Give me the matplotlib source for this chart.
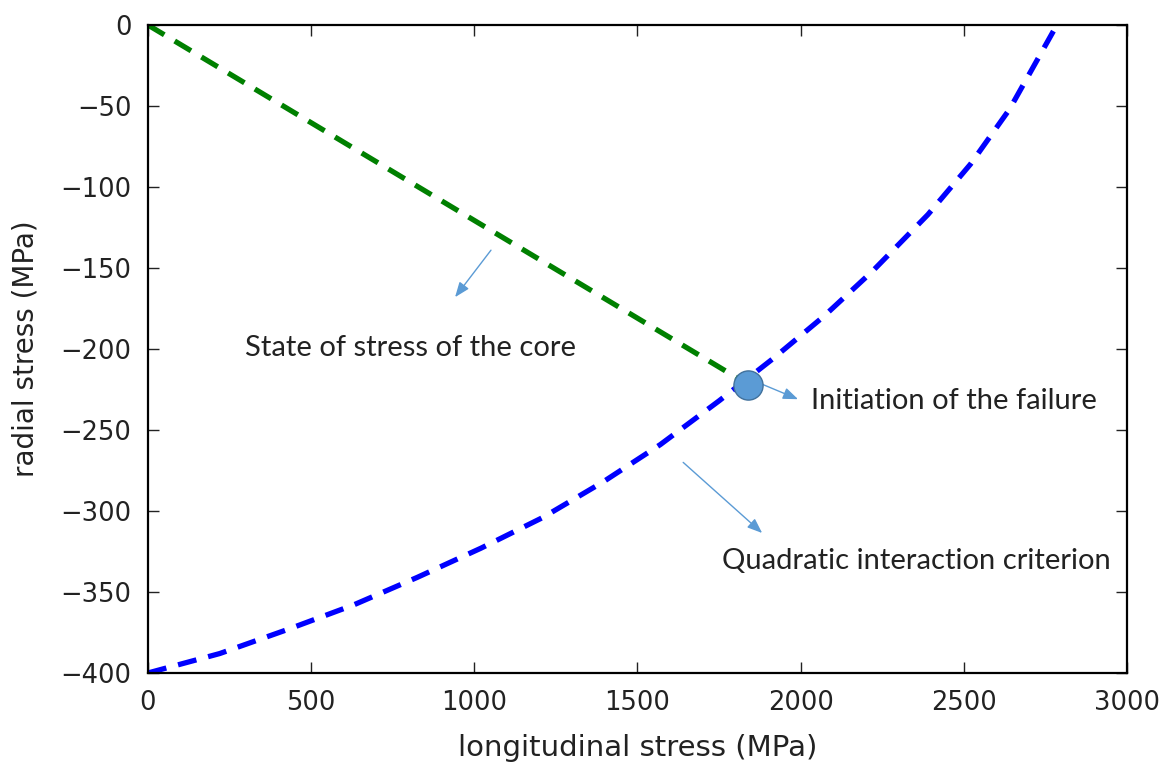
import matplotlib
matplotlib.use("Agg")
import matplotlib.pyplot as plt

# Quadratic interaction criterion (failure envelope)
crit_x = [0, 220, 430, 630, 825, 1020, 1210, 1395, 1570, 1750, 1915, 2070, 2220, 2390, 2520, 2640, 2785]
crit_y = [-400, -388, -373, -358, -341, -323, -304, -282, -259, -232, -206, -180, -152, -117, -86, -52, 0]

# State of stress of the core (loading path)
core_x = [0, 1840]
core_y = [0, -222]

# Initiation of failure point
fail_x = [1840]
fail_y = [-222]

x_ticks = [0, 500, 1000, 1500, 2000, 2500, 3000]
y_ticks = [0, -50, -100, -150, -200, -250, -300, -350, -400]

annot_color = "#5B9BD5"
txt_color = "#222222"

fig = plt.figure(figsize=(11.68, 7.65), dpi=100)
ax = fig.add_axes([0.1267, 0.1203, 0.8382, 0.847])

ax.plot(crit_x, crit_y, color="#0000FF", lw=3.8, dashes=(3.6, 2.3), dash_capstyle="butt")
ax.plot(core_x, core_y, color="#008000", lw=3.8, dashes=(3.6, 2.3), dash_capstyle="butt")
ax.plot(fail_x, fail_y, "o", ms=21, mfc=annot_color, mec="#41719C", mew=1.0, zorder=5)

ax.set_xlim(0, 3000)
ax.set_ylim(-400, 0)
ax.set_xticks(x_ticks)
ax.set_yticks(y_ticks)
ax.set_xticklabels([str(v) for v in x_ticks], family="DejaVu Sans")
ax.set_yticklabels([("\u2212" + str(-v)) if v < 0 else str(v) for v in y_ticks],
                   family="DejaVu Sans")

for s in ax.spines.values():
    s.set_linewidth(1.6)
ax.tick_params(direction="in", top=True, right=True, length=8, width=1.0,
               labelsize=18.5, colors=txt_color, labelcolor=txt_color)
ax.tick_params(axis="x", pad=12)
ax.tick_params(axis="y", pad=12)
ax.set_xlabel("longitudinal stress (MPa)", fontsize=21, color=txt_color,
              labelpad=13, family="DejaVu Sans")
ax.set_ylabel("radial stress (MPa)", fontsize=20, color=txt_color,
              labelpad=15, family="DejaVu Sans")

tfont = dict(family=["Lato", "DejaVu Sans"], fontsize=21, color=txt_color, va="center", ha="left")
ax.text(297, -199.5, "State of stress of the core", **tfont)
ax.text(2032, -232, "Initiation of the failure", **tfont)
ax.text(1759, -331, "Quadratic interaction criterion", **tfont)

aprops = dict(arrowstyle="-|>,head_length=0.9,head_width=0.35", color=annot_color,
              lw=1.0, shrinkA=0, shrinkB=0)
ax.annotate("", xy=(941, -168), xytext=(1051, -139), arrowprops=aprops)
ax.annotate("", xy=(1992, -231), xytext=(1885, -222), arrowprops=aprops)
ax.annotate("", xy=(1882, -313.6), xytext=(1640, -270), arrowprops=aprops)

fig.savefig("out.png", dpi=100)
